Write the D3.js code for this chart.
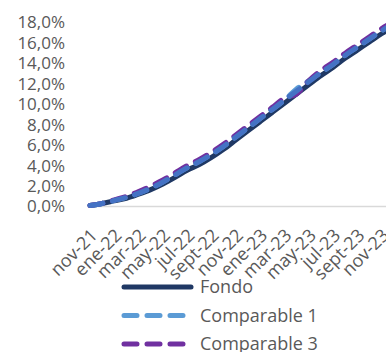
<!DOCTYPE html>
<html>
<head>
<meta charset="utf-8">
<script src="https://cdn.jsdelivr.net/npm/d3@7/dist/d3.min.js"></script>
<style>
  html, body { margin: 0; padding: 0; background: #fff; }
  svg { display: block; }
  .tick-y { font-family: "Open Sans", sans-serif; font-size: 17px; fill: #595959; }
  .tick-x { font-family: "Open Sans", sans-serif; font-size: 18px; fill: #595959; }
  .legend text { font-family: "Open Sans", sans-serif; font-size: 18px; fill: #595959; }
</style>
</head>
<body>
<svg id="chart" width="386" height="352"></svg>
<script>
// Monthly categories (labels shown every second month)
const months = ["nov-21","dic-21","ene-22","feb-22","mar-22","abr-22","may-22","jun-22","jul-22","ago-22","sept-22","oct-22",
                "nov-22","dic-22","ene-23","feb-23","mar-23","abr-23","may-23","jun-23","jul-23","ago-23","sept-23","oct-23",
                "nov-23","dic-23"];

// Cumulative return, %
const fondo       = [0.1,0.3,0.55,0.8,1.2,1.65,2.2,2.85,3.55,4.1,4.8,5.6,6.5,7.4,8.3,9.2,10.1,11.0,11.9,12.8,13.6,14.5,15.3,16.1,16.9,17.6];
const comparable1 = [0.1,0.3,0.6,0.9,1.3,1.8,2.4,3.1,3.8,4.4,5.1,5.9,6.8,7.7,8.6,9.5,10.4,11.5,12.3,13.1,13.9,14.8,15.6,16.4,17.2,17.9];
const comparable3 = [0.1,0.3,0.65,1.0,1.45,2.0,2.6,3.3,4.0,4.6,5.3,6.1,7.0,7.9,8.8,9.7,10.6,11.0,12.3,13.3,14.1,15.0,15.8,16.6,17.4,18.1];
const comparable2 = [0.1,0.3,0.6,0.9,1.3,1.8,2.4,3.1,3.8,4.4,5.1,5.9,6.8,7.7,8.6,9.5,10.4,11.3,12.2,13.1,13.9,14.8,15.6,16.4,17.2,17.9];

const yTicks = [0,2,4,6,8,10,12,14,16,18];

const series = [
  { name: "Fondo",        values: fondo,       color: "#1F3864", dash: null,    legend: true },
  { name: "Comparable 1", values: comparable1, color: "#5B9BD5", dash: "13,10", legend: true },
  { name: "Comparable 3", values: comparable3, color: "#7030A0", dash: "13,10", legend: true },
  { name: "Comparable 2", values: comparable2, color: "#4472C4", dash: "13,10", legend: false }
];

const svg = d3.select("#chart");

const x = d3.scalePoint().domain(months).range([90, 90 + 12.15 * (months.length - 1)]);
const y = d3.scaleLinear().domain([0, 18]).range([206.5, 22.5]);

// Category axis line
svg.append("line")
  .attr("x1", 87).attr("x2", 386)
  .attr("y1", y(0)).attr("y2", y(0))
  .attr("stroke", "#D9D9D9").attr("stroke-width", 1.5);

// Value axis labels
svg.append("g").selectAll("text")
  .data(yTicks).join("text")
  .attr("class", "tick-y")
  .attr("x", 65).attr("y", d => y(d))
  .attr("dy", "0.35em")
  .attr("text-anchor", "end")
  .text(d => d.toFixed(1).replace(".", ",") + "%");

// Category labels, rotated
svg.append("g").selectAll("text")
  .data(months.filter((m, i) => i % 2 === 0)).join("text")
  .attr("class", "tick-x")
  .attr("text-anchor", "end")
  .attr("dy", "0.35em")
  .attr("transform", d => `translate(${x(d) + 4},232) rotate(-45)`)
  .text(d => d);

// Lines
const line = d3.line()
  .x((d, i) => x(months[i]))
  .y(d => y(d))
  .curve(d3.curveMonotoneX);

svg.append("g").selectAll("path")
  .data(series).join("path")
  .attr("d", d => line(d.values))
  .attr("fill", "none")
  .attr("stroke", d => d.color)
  .attr("stroke-width", 5)
  .attr("stroke-linecap", "round")
  .attr("stroke-linejoin", "round")
  .attr("stroke-dasharray", d => d.dash);

// Legend
const legend = svg.append("g").attr("class", "legend");
const items = legend.selectAll("g")
  .data(series.filter(s => s.legend)).join("g")
  .attr("transform", (d, i) => `translate(0,${287 + i * 28.5})`);
items.append("line")
  .attr("x1", 124).attr("x2", 191)
  .attr("y1", 0).attr("y2", 0)
  .attr("stroke", d => d.color)
  .attr("stroke-width", 5)
  .attr("stroke-linecap", "round")
  .attr("stroke-dasharray", d => d.dash);
items.append("text")
  .attr("x", 200).attr("y", 0).attr("dy", "0.35em")
  .text(d => d.name);
</script>
</body>
</html>
